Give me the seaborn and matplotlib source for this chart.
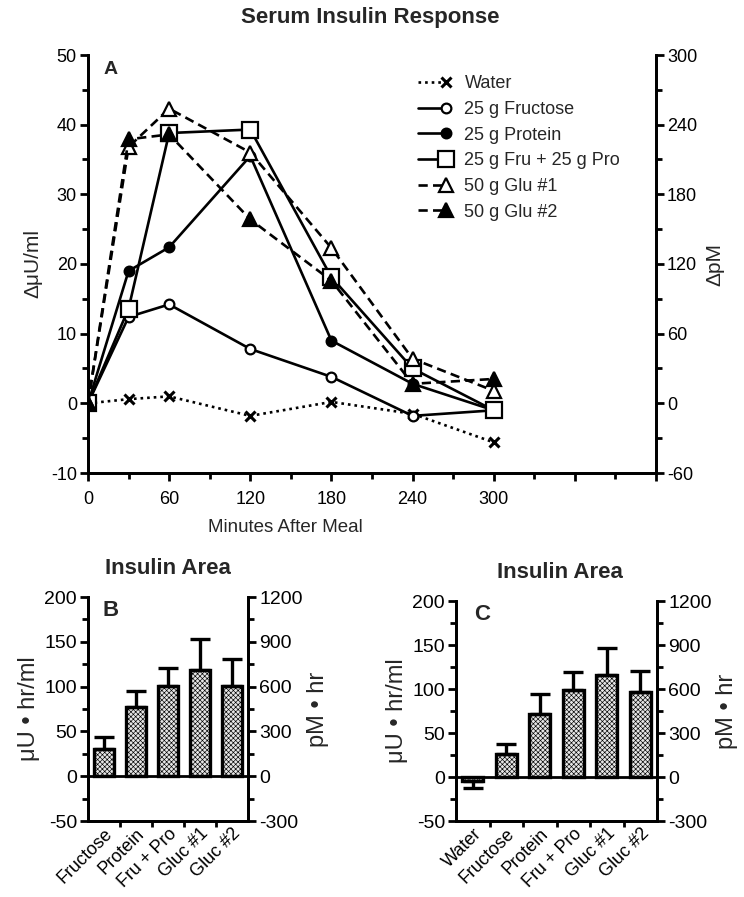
import numpy as np
import pandas as pd
import matplotlib
matplotlib.use("Agg")
import matplotlib.pyplot as plt
import seaborn as sns
from matplotlib.legend_handler import HandlerLine2D
from matplotlib.ticker import MultipleLocator, FixedLocator

# ---------------- data ----------------
minutes = [0, 30, 60, 120, 180, 240, 300]
water = [0.0, 0.6, 1.0, -1.8, 0.2, -1.5, -5.6]
fructose = [0.0, 12.4, 14.2, 7.8, 3.8, -1.8, -1.0]
protein = [0.0, 19.0, 22.4, 35.5, 9.0, 2.8, -1.0]
fru_pro = [0.0, 13.6, 38.8, 39.3, 18.1, 5.0, -1.0]
glu1 = [0.0, 36.8, 42.3, 36.0, 22.3, 6.4, 1.8]
glu2 = [0.0, 37.9, 38.6, 26.4, 17.6, 2.8, 3.5]
series_names = ["Water", "25 g Fructose", "25 g Protein", "25 g Fru + 25 g Pro",
                "50 g Glu #1", "50 g Glu #2"]

b_labels = ["Fructose", "Protein", "Fru + Pro", "Gluc #1", "Gluc #2"]
b_values = [30, 77, 101, 119, 101]
b_err = [14, 18, 20, 34, 30]

c_labels = ["Water", "Fructose", "Protein", "Fru + Pro", "Gluc #1", "Gluc #2"]
c_values = [-4, 26, 72, 99, 116, 97]
c_err = [9, 11, 22, 20, 31, 23]

# ---------------- style ----------------
sns.set_theme(style="ticks")
plt.rcParams['font.family'] = ['Liberation Sans', 'DejaVu Sans']
plt.rcParams['axes.unicode_minus'] = False
plt.rcParams['hatch.linewidth'] = 0.45
plt.rcParams['hatch.color'] = '#222222'

W, H = 744, 897
fig = plt.figure(figsize=(W / 100, H / 100), dpi=100)

def ax_rect(l, t, r, b):
    return [l / W, 1 - b / H, (r - l) / W, (b - t) / H]

TICK_FS = 13
LW = 2.0

def style_axis(ax):
    for s in ['left', 'right', 'bottom', 'top']:
        ax.spines[s].set_linewidth(LW)
        ax.spines[s].set_color('black')
    ax.spines['top'].set_visible(False)
    ax.tick_params(axis='both', which='major', direction='out', length=6, width=LW,
                   labelsize=TICK_FS, colors='black', pad=2)
    ax.tick_params(axis='both', which='minor', direction='out', length=4, width=LW,
                   colors='black')

# ---------------- Panel A ----------------
axA = fig.add_axes(ax_rect(88, 55, 656, 473))
dfA = pd.DataFrame({
    'minutes': minutes * 6,
    'value': water + fructose + protein + fru_pro + glu1 + glu2,
    'group': sum([[n] * len(minutes) for n in series_names], []),
})
styles = {
    "Water": dict(ls=(0, (1, 1.5)), marker='x', mfc='black', ms=6.5, mew=2.2),
    "25 g Fructose": dict(ls='-', marker='o', mfc='white', ms=7, mew=1.6),
    "25 g Protein": dict(ls='-', marker='o', mfc='black', ms=7, mew=1.6),
    "25 g Fru + 25 g Pro": dict(ls='-', marker='s', mfc='white', ms=11, mew=1.6),
    "50 g Glu #1": dict(ls=(0, (3.5, 2)), marker='^', mfc='white', ms=9.5, mew=1.6),
    "50 g Glu #2": dict(ls=(0, (3.5, 2)), marker='^', mfc='black', ms=9.5, mew=1.6),
}
handles = []
for name in series_names:
    sub = dfA[dfA['group'] == name]
    st = styles[name]
    sns.lineplot(data=sub, x='minutes', y='value', ax=axA, color='black',
                 linewidth=1.9, linestyle=st['ls'], marker=st['marker'],
                 markerfacecolor=st['mfc'], markeredgecolor='black',
                 markersize=st['ms'], markeredgewidth=st['mew'],
                 label=name, legend=False, errorbar=None)
    handles.append(axA.lines[-1])

axA.set_xlim(0, 420)
axA.set_ylim(-10, 50)
axA.xaxis.set_major_locator(FixedLocator([0, 60, 120, 180, 240, 300, 360, 420]))
axA.set_xticklabels(['0', '60', '120', '180', '240', '300', '', ''])
axA.xaxis.set_minor_locator(MultipleLocator(30))
axA.yaxis.set_major_locator(MultipleLocator(10))
axA.yaxis.set_minor_locator(MultipleLocator(5))
axA.set_xlabel('')
axA.set_ylabel('ΔμU/ml', fontsize=15, labelpad=6)
style_axis(axA)
axA.tick_params(axis='x', which='major', pad=7)
axA2 = axA.twinx()
axA2.set_ylim(-60, 300)
axA2.yaxis.set_major_locator(MultipleLocator(60))
axA2.yaxis.set_minor_locator(MultipleLocator(30))
style_axis(axA2)
axA2.set_ylabel('ΔpM', fontsize=15, rotation=90, labelpad=6)
axA.text(0.027, 0.985, 'A', transform=axA.transAxes, fontsize=14, fontweight='bold',
         va='top', ha='left')


class EndMarker(HandlerLine2D):
    def create_artists(self, legend, orig_handle, xdescent, ydescent, width,
                       height, fontsize, trans):
        arts = super().create_artists(legend, orig_handle, xdescent, ydescent,
                                      width, height, fontsize, trans)
        for a in arts:
            a.set_markevery([1])
        return arts

leg = axA.legend(handles=handles, labels=series_names, loc='upper left',
                 bbox_to_anchor=(0.542, 0.99), frameon=False, numpoints=2,
                 handlelength=2.2, handletextpad=0.7, labelspacing=0.48,
                 fontsize=13, handler_map={h: EndMarker() for h in handles})

fig.text(285 / W, 1 - 527 / H, 'Minutes After Meal', ha='center', va='center', fontsize=13.5)
fig.text(370 / W, 1 - 18 / H, 'Serum Insulin Response', ha='center', va='center',
         fontsize=16, fontweight='bold')

# ---------------- Bar panels ----------------
def bar_panel(rect, labels, values, errs, letter, title_xy):
    ax = fig.add_axes(rect)
    df = pd.DataFrame({'cat': labels, 'val': values})
    sns.barplot(data=df, x='cat', y='val', ax=ax, color='#d8d8d8', width=0.62,
                errorbar=None, edgecolor='black', linewidth=2.4, saturation=1)
    for p in ax.patches:
        p.set_hatch('xxxxxxx')
        p.set_facecolor('#e6e6e6')
    lower = [e if v < 0 else 0 for v, e in zip(values, errs)]
    upper = [e if v >= 0 else 0 for v, e in zip(values, errs)]
    ax.errorbar(range(len(values)), values, yerr=[lower, upper], fmt='none',
                ecolor='black', elinewidth=2.4, capsize=7, capthick=2.4, zorder=3)
    ax.axhline(0, color='black', lw=LW, zorder=4)
    ax.set_xlim(-0.5, len(values) - 0.5)
    ax.set_ylim(-50, 200)
    ax.yaxis.set_major_locator(MultipleLocator(50))
    ax.yaxis.set_minor_locator(MultipleLocator(25))
    ax.xaxis.set_minor_locator(FixedLocator(np.arange(0.5, len(values) - 0.5, 1)))
    style_axis(ax)
    ax.tick_params(axis='y', which='major', labelsize=14)
    ax.tick_params(axis='x', which='major', length=0, pad=3)
    ax.set_xticks(range(len(values)))
    ax.set_xticklabels(labels, rotation=45, ha='right', rotation_mode='anchor',
                       fontsize=13)
    ax.set_xlabel('')
    ax.set_ylabel('μU • hr/ml', fontsize=17, labelpad=3)
    ax2 = ax.twinx()
    ax2.set_ylim(-300, 1200)
    ax2.yaxis.set_major_locator(MultipleLocator(300))
    ax2.yaxis.set_minor_locator(MultipleLocator(150))
    style_axis(ax2)
    ax2.tick_params(axis='y', which='major', labelsize=14)
    ax2.set_ylabel('pM • hr', fontsize=17, labelpad=3)
    ax.text(0.09, 0.985, letter, transform=ax.transAxes, fontsize=16, fontweight='bold',
            va='top', ha='left')
    fig.text(title_xy[0] / W, 1 - title_xy[1] / H, 'Insulin Area', ha='center',
             va='center', fontsize=16, fontweight='bold')
    return ax

bar_panel(ax_rect(88, 597, 248, 821), b_labels, b_values, b_err, 'B', (168, 569))
bar_panel(ax_rect(456, 601, 657, 821), c_labels, c_values, c_err, 'C', (560, 572))

fig.savefig('out.png', dpi=100)
